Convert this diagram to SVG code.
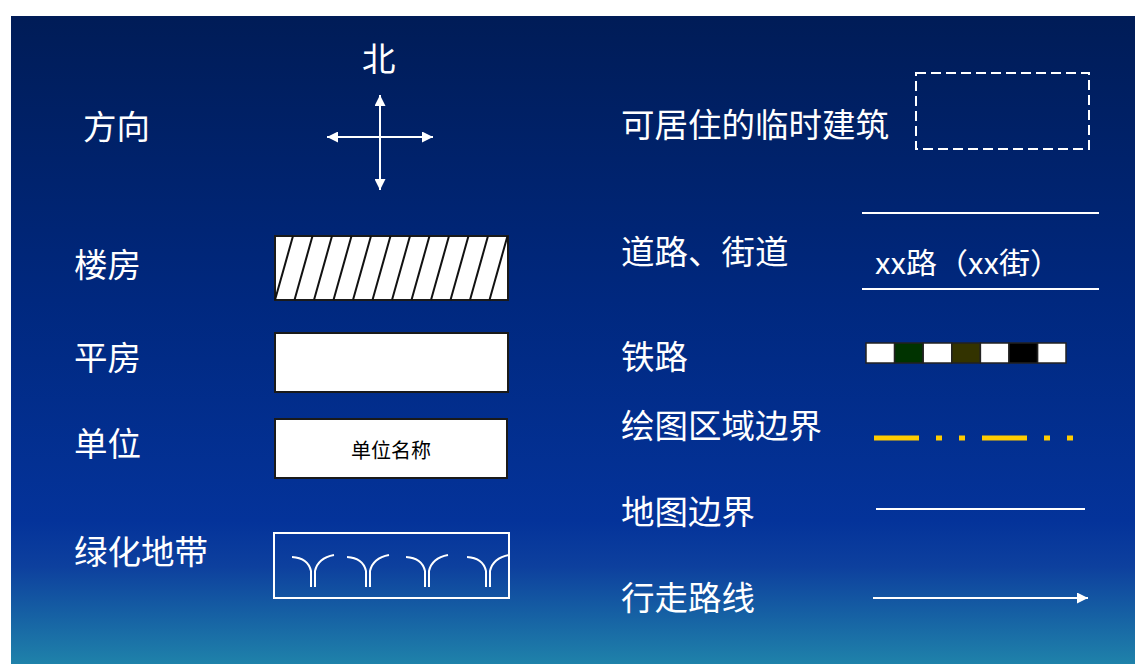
<svg xmlns="http://www.w3.org/2000/svg" width="1135" height="664" viewBox="0 0 1135 664">
  <defs>
    <linearGradient id="bg" x1="0" y1="0" x2="0" y2="1">
      <stop offset="0" stop-color="#001C57"/>
      <stop offset="0.44" stop-color="#00287F"/>
      <stop offset="0.78" stop-color="#04339A"/>
      <stop offset="0.85" stop-color="#0D409E"/>
      <stop offset="1" stop-color="#1F82AA"/>
    </linearGradient>
    <marker id="ah" viewBox="0 0 10 10" refX="10" refY="5" markerWidth="12" markerHeight="11" markerUnits="userSpaceOnUse" orient="auto-start-reverse">
      <path d="M0,0 L10,5 L0,10 Z" fill="#FFFFFF"/>
    </marker>
  </defs>
  <style>
    .lbl { font-family: "Noto Sans CJK SC", "Noto Sans", sans-serif; font-size: 33.5px; fill: #FFFFFF; }
    .box { fill: #FFFFFF; stroke: #1A1A1A; stroke-width: 2; }
    .wl { stroke: #FFFFFF; stroke-width: 2; fill: none; }
    .hatch { stroke: #111111; stroke-width: 2; }
    .cell { stroke: #222222; stroke-width: 1.5; }
    .yel { fill: #FFCC00; }
  </style>

  <rect x="0" y="0" width="1135" height="664" fill="#FFFFFF"/>
  <rect x="11" y="16" width="1124" height="648" fill="url(#bg)"/>

  <g id="direction">
    <text class="lbl" x="83" y="139">方向</text>
    <text class="lbl" x="362" y="71">北</text>
  </g>

  <g id="connectors">
    <line class="wl" x1="380" y1="95" x2="380" y2="190" marker-start="url(#ah)" marker-end="url(#ah)"/>
    <line class="wl" x1="327" y1="137" x2="433" y2="137" marker-start="url(#ah)" marker-end="url(#ah)"/>
    <line class="wl" x1="873" y1="598" x2="1088" y2="598" marker-end="url(#ah)"/>
  </g>

  <g id="building">
    <text class="lbl" x="74" y="277">楼房</text>
    <rect class="box" x="275" y="236" width="233" height="64"/>
    <g class="hatch">
      <line x1="275" y1="300" x2="293" y2="236"/>
      <line x1="294.5" y1="300" x2="312.5" y2="236"/>
      <line x1="314" y1="300" x2="332" y2="236"/>
      <line x1="333.5" y1="300" x2="351.5" y2="236"/>
      <line x1="353" y1="300" x2="371" y2="236"/>
      <line x1="372.5" y1="300" x2="390.5" y2="236"/>
      <line x1="392" y1="300" x2="410" y2="236"/>
      <line x1="411.5" y1="300" x2="429.5" y2="236"/>
      <line x1="431" y1="300" x2="449" y2="236"/>
      <line x1="450.5" y1="300" x2="468.5" y2="236"/>
      <line x1="470" y1="300" x2="488" y2="236"/>
      <line x1="489.5" y1="300" x2="507.5" y2="236"/>
    </g>
  </g>

  <g id="bungalow">
    <text class="lbl" x="74" y="370">平房</text>
    <rect class="box" x="275" y="333" width="233" height="59"/>
  </g>

  <g id="unit">
    <text class="lbl" x="74" y="456">单位</text>
    <rect class="box" x="275" y="419" width="232" height="59"/>
    <text x="391" y="458" text-anchor="middle" font-family="Noto Sans CJK SC, sans-serif" font-size="20" fill="#000000">单位名称</text>
  </g>

  <g id="greenbelt">
    <text class="lbl" x="74" y="564">绿化地带</text>
    <rect class="wl" x="274" y="533" width="235" height="65"/>
    <g class="wl" stroke-width="1.6">
      <path d="M292,557 Q308,558 311,571 L311,587 M334,555 Q318,558 315,571 L315,587"/>
      <path d="M347,557 Q363,558 366,571 L366,587 M389,555 Q373,558 370,571 L370,587"/>
      <path d="M406,557 Q422,558 425,571 L425,587 M448,555 Q432,558 429,571 L429,587"/>
      <path d="M467,557 Q483,558 486,571 L486,587 M509,555 Q493,558 490,571 L490,587"/>
    </g>
  </g>

  <g id="temp-building">
    <text class="lbl" x="621" y="137">可居住的临时建筑</text>
    <rect class="wl" x="916" y="73" width="173" height="76" stroke-dasharray="10,5"/>
  </g>

  <g id="road">
    <text class="lbl" x="621" y="264">道路、街道</text>
    <line class="wl" x1="862" y1="213" x2="1099" y2="213"/>
    <line class="wl" x1="862" y1="289" x2="1099" y2="289"/>
    <text x="875" y="274" font-family="Noto Sans CJK SC, sans-serif" font-size="29" fill="#FFFFFF" textLength="186" lengthAdjust="spacingAndGlyphs">xx路（xx街）</text>
  </g>

  <g id="railway">
    <text class="lbl" x="621" y="369">铁路</text>
    <rect class="cell" x="866" y="343" width="28.6" height="20" fill="#FFFFFF"/>
    <rect class="cell" x="894.6" y="343" width="28.6" height="20" fill="#003300"/>
    <rect class="cell" x="923.2" y="343" width="28.6" height="20" fill="#FFFFFF"/>
    <rect class="cell" x="951.8" y="343" width="28.6" height="20" fill="#333300"/>
    <rect class="cell" x="980.4" y="343" width="28.6" height="20" fill="#FFFFFF"/>
    <rect class="cell" x="1009" y="343" width="28.6" height="20" fill="#000000"/>
    <rect class="cell" x="1037.6" y="343" width="28.4" height="20" fill="#FFFFFF"/>
  </g>

  <g id="drawing-boundary">
    <text class="lbl" x="621" y="438">绘图区域边界</text>
    <rect class="yel" x="874" y="435.5" width="45" height="5"/>
    <rect class="yel" x="936" y="435.5" width="6" height="5"/>
    <rect class="yel" x="959" y="435.5" width="6" height="5"/>
    <rect class="yel" x="982" y="435.5" width="45" height="5"/>
    <rect class="yel" x="1044" y="435.5" width="6" height="5"/>
    <rect class="yel" x="1067" y="435.5" width="6" height="5"/>
  </g>

  <g id="map-boundary">
    <text class="lbl" x="621" y="524">地图边界</text>
    <line class="wl" x1="876" y1="509" x2="1085" y2="509"/>
  </g>

  <g id="walking-route">
    <text class="lbl" x="621" y="610">行走路线</text>
  </g>
</svg>
